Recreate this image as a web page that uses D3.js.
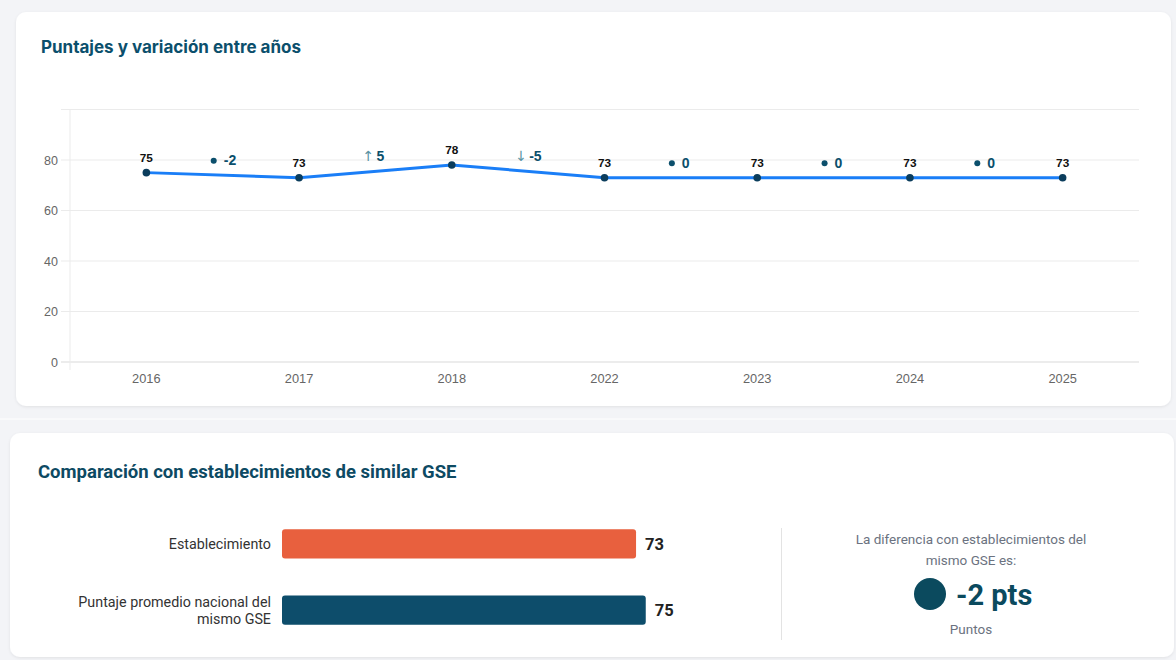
<!DOCTYPE html>
<html>
<head>
<meta charset="utf-8">
<script src="https://cdn.jsdelivr.net/npm/d3@7"></script>
<style>
  body { margin: 0; background: #f3f4f7; }
  svg { display: block; }
</style>
</head>
<body>
<script>
// datos
const years = ["2016", "2017", "2018", "2022", "2023", "2024", "2025"]
const scores = [75, 73, 78, 73, 73, 73, 73]
const yTicks = [0, 20, 40, 60, 80]

const barLabels = [["Establecimiento"], ["Puntaje promedio nacional del", "mismo GSE"]]
const barValues = [73, 75]
const barColors = ["#e8603e", "#0d4d6b"]

const W = 1176, H = 660
const teal = "#0b4f6c"

const svg = d3.select("body").append("svg")
    .attr("width", W)
    .attr("height", H)

const defs = svg.append("defs")
const f = defs.append("filter").attr("id", "sh").attr("x", -0.05).attr("y", -0.05).attr("width", 1.1).attr("height", 1.1)
f.append("feDropShadow").attr("dx", 0).attr("dy", 1).attr("stdDeviation", 1.5)
    .attr("flood-color", "#000").attr("flood-opacity", 0.08)

svg.append("rect").attr("width", W).attr("height", H).attr("fill", "#f3f4f7")

// tarjetas
svg.append("rect").attr("x", 16).attr("y", 12).attr("width", 1155).attr("height", 394)
    .attr("rx", 10).attr("fill", "#fff").attr("filter", "url(#sh)")
svg.append("line").attr("x1", 0).attr("x2", W).attr("y1", 419).attr("y2", 419)
    .attr("stroke", "#fff").attr("stroke-width", 1)
svg.append("rect").attr("x", 10).attr("y", 433).attr("width", 1164).attr("height", 224)
    .attr("rx", 10).attr("fill", "#fff").attr("filter", "url(#sh)")

// grafico de lineas
svg.append("text").attr("x", 41).attr("y", 53)
    .attr("font-family", "Inter, Roboto, sans-serif").attr("font-weight", 700).attr("font-size", 17)
    .attr("fill", teal).text("Puntajes y variación entre años")

const x = d3.scaleBand().domain(years).range([70, 1139])
const y = d3.scaleLinear().domain([0, 100]).range([362, 109.5])
const cx = d => x(d) + x.bandwidth() / 2

const grid = svg.append("g")
grid.selectAll("line").data([0, 20, 40, 60, 80, 100]).join("line")
    .attr("x1", 61).attr("x2", 1139)
    .attr("y1", d => y(d)).attr("y2", d => y(d))
    .attr("stroke", d => d === 0 ? "#d9d9d9" : "#ebebeb").attr("stroke-width", 1)
svg.append("line").attr("x1", 70).attr("x2", 70).attr("y1", 109.5).attr("y2", 370)
    .attr("stroke", "#ebebeb")

const gy = svg.append("g")
    .attr("transform", "translate(70,0)")
    .call(d3.axisLeft(y).tickValues(yTicks).tickSize(0).tickPadding(12))
gy.select(".domain").remove()
gy.selectAll("text").attr("font-family", "Liberation Sans, Arial, sans-serif")
    .attr("font-size", 12.5).attr("fill", "#666")

const gx = svg.append("g")
    .attr("transform", "translate(0,362)")
    .call(d3.axisBottom(x).tickSize(0).tickPadding(12))
gx.select(".domain").remove()
gx.selectAll("text").attr("font-family", "Liberation Sans, Arial, sans-serif")
    .attr("font-size", 12.8).attr("fill", "#666")

const data = years.map((yr, i) => ({ yr, v: scores[i] }))
const line = d3.line().x(d => cx(d.yr)).y(d => y(d.v))

svg.append("path").datum(data)
    .attr("d", line)
    .attr("fill", "none").attr("stroke", "#1a7ef7").attr("stroke-width", 3)

svg.append("g").selectAll("circle").data(data).join("circle")
    .attr("cx", d => cx(d.yr)).attr("cy", d => y(d.v)).attr("r", 3.8)
    .attr("fill", "#0b3d5c")

svg.append("g").selectAll("text").data(data).join("text")
    .attr("x", d => cx(d.yr)).attr("y", d => y(d.v) - 11)
    .attr("text-anchor", "middle")
    .attr("font-family", "Liberation Sans, Arial, sans-serif").attr("font-weight", 700)
    .attr("font-size", 11.8).attr("fill", "#111")
    .text(d => d.v)

// variaciones
const diffs = data.slice(1).map((d, i) => ({
    a: data[i], b: d, diff: d.v - data[i].v
}))
const vg = svg.append("g").selectAll("g").data(diffs).join("g")
    .attr("transform", d => `translate(${(cx(d.a.yr) + cx(d.b.yr)) / 2},${y((d.a.v + d.b.v) / 2) - 10})`)

vg.each(function (d) {
    const g = d3.select(this)
    if (Math.abs(d.diff) < 3) {
        g.append("circle").attr("cx", -9).attr("cy", -4.5).attr("r", 3).attr("fill", teal)
    } else {
        g.append("text").attr("x", -7).attr("y", 0).attr("text-anchor", "middle")
            .attr("font-family", "DejaVu Sans, sans-serif").attr("font-size", 14)
            .attr("fill", "#5a93a3").text(d.diff > 0 ? "↑" : "↓")
    }
    g.append("text").attr("x", 1).attr("y", 0)
        .attr("font-family", "Liberation Sans, Arial, sans-serif").attr("font-weight", 700)
        .attr("font-size", 14).attr("fill", teal)
        .text(d.diff)
})

// comparacion
svg.append("text").attr("x", 38).attr("y", 478)
    .attr("font-family", "Roboto, sans-serif").attr("font-weight", 700).attr("font-size", 18.5)
    .attr("fill", "#0d4a63").text("Comparación con establecimientos de similar GSE")

const bx = d3.scaleLinear().domain([0, 100]).range([282, 767])
const by = d3.scaleBand().domain([0, 1]).range([516, 638]).paddingInner(0.56).paddingOuter(0.2)

svg.append("g").selectAll("rect").data(barValues).join("rect")
    .attr("x", bx(0)).attr("y", (d, i) => by(i))
    .attr("width", d => bx(d) - bx(0)).attr("height", by.bandwidth())
    .attr("rx", 3).attr("fill", (d, i) => barColors[i])

svg.append("g").selectAll("text").data(barValues).join("text")
    .attr("x", d => bx(d) + 9).attr("y", (d, i) => by(i) + by.bandwidth() / 2 + 6)
    .attr("font-family", "Roboto, sans-serif").attr("font-weight", 700)
    .attr("font-size", 16.5).attr("fill", "#222")
    .text(d => d)

svg.append("g").selectAll("text").data(barLabels).join("text")
    .attr("text-anchor", "end")
    .attr("font-family", "Roboto, sans-serif").attr("font-size", 14.3).attr("fill", "#333")
    .each(function (lines, i) {
        const t = d3.select(this)
        const mid = by(i) + by.bandwidth() / 2
        const start = mid + 5 - (lines.length - 1) * 8
        lines.forEach((l, j) => {
            t.append("tspan").attr("x", 271).attr("y", start + j * 17).text(l)
        })
    })

// diferencia
svg.append("line").attr("x1", 781.5).attr("x2", 781.5).attr("y1", 528).attr("y2", 640)
    .attr("stroke", "#e3e3e3")

const diffGse = barValues[0] - barValues[1]
const rc = 971
svg.append("text").attr("x", rc).attr("y", 544).attr("text-anchor", "middle")
    .attr("font-family", "Roboto, sans-serif").attr("font-size", 13.5).attr("fill", "#6b7280")
    .text("La diferencia con establecimientos del")
svg.append("text").attr("x", rc).attr("y", 565).attr("text-anchor", "middle")
    .attr("font-family", "Roboto, sans-serif").attr("font-size", 13.5).attr("fill", "#6b7280")
    .text("mismo GSE es:")
svg.append("circle").attr("cx", 930).attr("cy", 594).attr("r", 16).attr("fill", "#0b4a5e")
svg.append("text").attr("x", 956).attr("y", 605)
    .attr("font-family", "Roboto, sans-serif").attr("font-weight", 700).attr("font-size", 29)
    .attr("fill", "#0b4a5e").text(`${diffGse} pts`)
svg.append("text").attr("x", rc).attr("y", 634).attr("text-anchor", "middle")
    .attr("font-family", "Roboto, sans-serif").attr("font-size", 13.5).attr("fill", "#6b7280")
    .text("Puntos")
</script>
</body>
</html>
